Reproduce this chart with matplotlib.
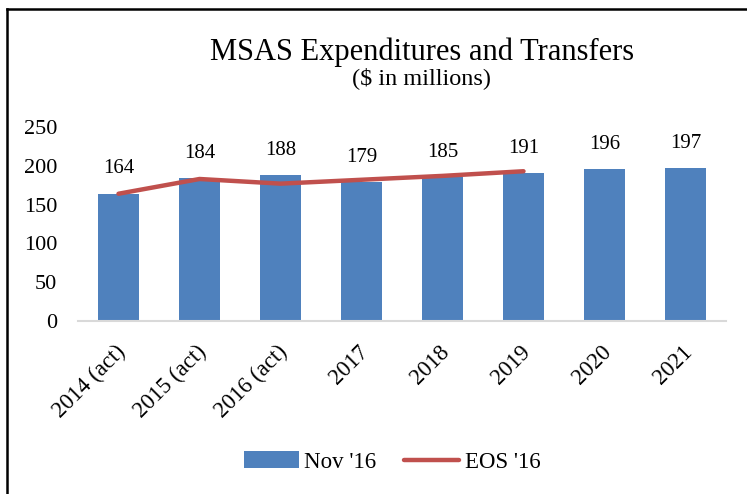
import numpy as np
import matplotlib
matplotlib.use('Agg')
import matplotlib.pyplot as plt
import matplotlib.transforms as mtransforms
from matplotlib.lines import Line2D

plt.rcParams['font.family'] = ['Liberation Serif', 'DejaVu Serif']

years = ['2014 (act)', '2015 (act)', '2016 (act)', '2017', '2018', '2019', '2020', '2021']
nov16 = [164, 184, 188, 179, 185, 191, 196, 197]
eos16 = [164, 183, 177, 182, 187, 193]

bar_color = '#4F81BD'
line_color = '#C0504D'

W, H = 747, 494
fig = plt.figure(figsize=(W / 100, H / 100), dpi=100)
ax = fig.add_axes([78 / W, 1 - 321 / H, (726 - 78) / W, (321 - 127) / H])

x = np.arange(len(years))
bars = ax.bar(x, nov16, width=0.5, color=bar_color, label="Nov '16", zorder=2)
line, = ax.plot(x[:len(eos16)], eos16, color=line_color, lw=3.2, solid_capstyle='round',
                label="EOS '16", zorder=3)

for xi, v in zip(x, nov16):
    ax.annotate(str(v), (xi, v), xytext=(0, 11), textcoords='offset points',
                ha='center', va='bottom', fontsize=15)

ax.set_xlim(-0.5, len(years) - 0.5)
ax.set_ylim(0, 250)
ax.set_yticks(range(0, 251, 50))
ax.tick_params(axis='y', length=0, pad=15, labelsize=16)
ax.tick_params(axis='x', length=0, pad=20, labelsize=16.5)
ax.set_xticks(x)
ax.set_xticklabels(years, rotation=45, ha='right', va='center', rotation_mode='anchor')
shift = mtransforms.ScaledTranslation(4 / 100, 0, fig.dpi_scale_trans)
for lbl in ax.get_xticklabels():
    lbl.set_transform(lbl.get_transform() + shift)

for s in ['top', 'right', 'left']:
    ax.spines[s].set_visible(False)
ax.spines['bottom'].set_color('#D9D9D9')
ax.spines['bottom'].set_linewidth(1.5)

fig.text(422 / W, 1 - 60 / H, 'MSAS Expenditures and Transfers', ha='center',
         va='baseline', fontsize=22)
fig.text(422 / W, 1 - 84 / H, '($ in millions)', ha='center', va='baseline', fontsize=17.5)

fig.legend([bars, line], ["Nov '16", "EOS '16"], loc='center',
           bbox_to_anchor=(392 / W, 1 - 462 / H), ncol=2, frameon=False,
           fontsize=16.5, handlelength=2.4, handletextpad=0.25, columnspacing=1.2)

# outer frame (top and left edges only)
fig.add_artist(Line2D([7 / W, 7 / W], [0, 1 - 9 / H], transform=fig.transFigure,
                      color='black', lw=1.8))
fig.add_artist(Line2D([7 / W, 1], [1 - 9 / H, 1 - 9 / H], transform=fig.transFigure,
                      color='black', lw=1.8))

fig.savefig('out.png', dpi=100)
